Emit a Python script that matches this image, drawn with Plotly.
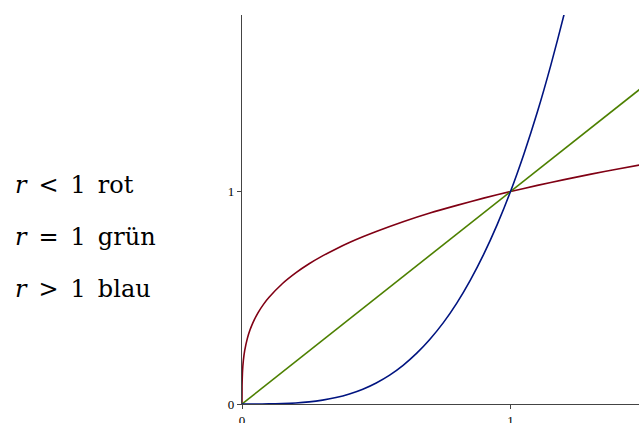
import plotly.graph_objects as go

# Values read /
red_x = [0, 0.0002, 0.0005, 0.002, 0.005, 0.01, 0.02, 0.03, 0.04, 0.06, 0.08, 0.1, 0.15, 0.2, 0.25,
         0.3, 0.35, 0.4, 0.45, 0.5, 0.6, 0.7, 0.8, 0.9, 1.0, 1.1, 1.2, 1.3, 1.4, 1.5]
red_y = [0, 0.078, 0.102, 0.155, 0.204, 0.251, 0.309, 0.349, 0.381, 0.430, 0.469, 0.501, 0.566, 0.617, 0.660,
         0.697, 0.730, 0.760, 0.787, 0.812, 0.858, 0.899, 0.935, 0.969, 1.0, 1.029, 1.056, 1.082, 1.106, 1.129]

green_x = [0, 1.5]
green_y = [0, 1.5]

blue_x = [0, 0.05, 0.1, 0.15, 0.2, 0.25, 0.3, 0.35, 0.4, 0.45, 0.5, 0.55, 0.6, 0.65, 0.7, 0.75,
          0.8, 0.85, 0.9, 0.95, 1.0, 1.05, 1.1, 1.15, 1.2, 1.25]
blue_y = [0, 0.00005, 0.00046, 0.0018, 0.0047, 0.0098, 0.0181, 0.0302, 0.0472, 0.0698, 0.0992, 0.136,
          0.182, 0.238, 0.305, 0.383, 0.475, 0.582, 0.704, 0.843, 1.0, 1.177, 1.374, 1.594, 1.836, 2.104]

tick_vals = [0, 1]
tick_text = ["0", "1"]

SP = "\u2002"
labels = [f"<i>r</i>{SP}<{SP}1{SP}rot", f"<i>r</i>{SP}={SP}1{SP}grün", f"<i>r</i>{SP}>{SP}1{SP}blau"]
label_y = [0.563, 0.430, 0.296]

fig = go.Figure()
fig.add_trace(go.Scatter(x=red_x, y=red_y, mode="lines",
                         line=dict(color="rgb(128,0,20)", width=1.6, shape="spline", smoothing=0.7),
                         showlegend=False))
fig.add_trace(go.Scatter(x=green_x, y=green_y, mode="lines",
                         line=dict(color="rgb(77,128,0)", width=1.6), showlegend=False))
fig.add_trace(go.Scatter(x=blue_x, y=blue_y, mode="lines",
                         line=dict(color="rgb(0,20,128)", width=1.6, shape="spline", smoothing=0.7),
                         showlegend=False))

for t, yy in zip(labels, label_y):
    fig.add_annotation(text=t, xref="paper", yref="paper", x=-0.578, y=yy,
                       xanchor="left", yanchor="middle", showarrow=False,
                       font=dict(family="DejaVu Serif", size=24, color="black"))

axis_common = dict(showgrid=False, zeroline=False, showline=True, linecolor="#444",
                   linewidth=1.3, ticks="outside", ticklen=4, tickwidth=1.2, tickcolor="#444",
                   tickvals=tick_vals, ticktext=tick_text, automargin=False,
                   tickfont=dict(family="Liberation Serif", size=13, color="black"))

fig.update_xaxes(range=[0, 1.4786], **axis_common)
fig.update_yaxes(range=[0, 1.831], **axis_common)

fig.update_layout(width=639, height=423, margin=dict(l=242, r=0, t=15, b=19),
                  plot_bgcolor="white", paper_bgcolor="white")

fig.write_html("out.html")
